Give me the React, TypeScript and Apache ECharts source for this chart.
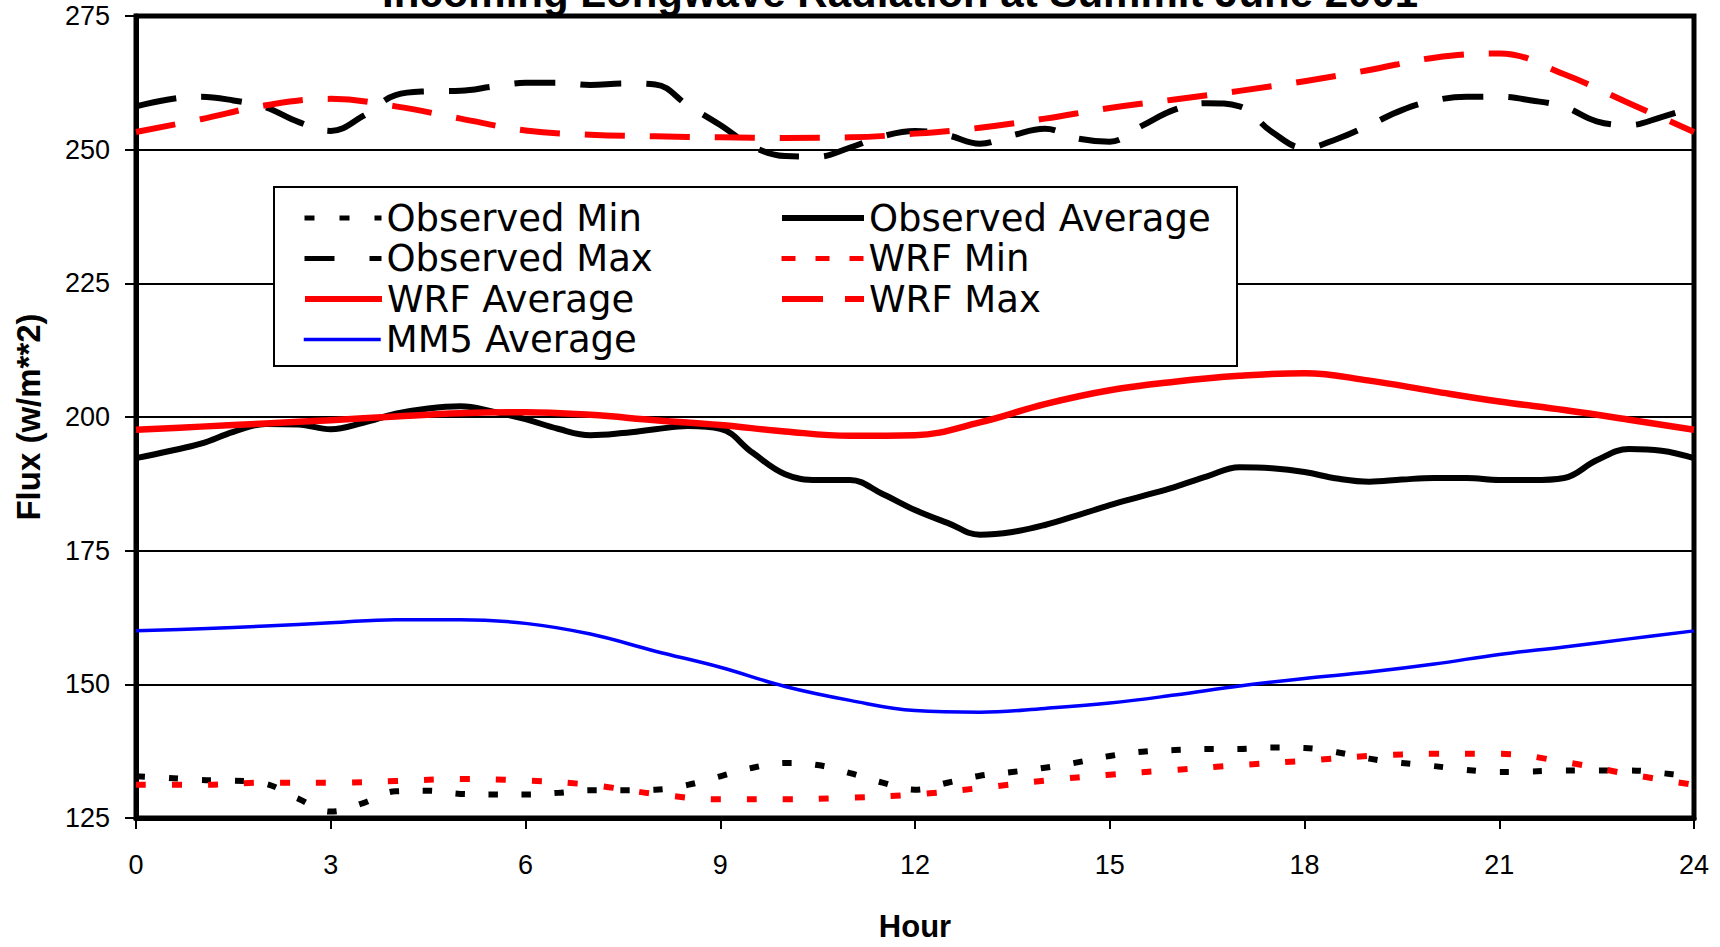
import React, { useEffect, useRef } from "react";
import * as echarts from "echarts";

// Hours of the day (half-hourly observations, hourly model output)
const halfHours = [
  0, 0.5, 1, 1.5, 2, 2.5, 3, 3.5, 4, 4.5, 5, 5.5, 6, 6.5, 7, 7.5, 8, 8.5, 9, 9.5,
  10, 10.5, 11, 11.5, 12, 12.5, 13, 13.5, 14, 14.5, 15, 15.5, 16, 16.5, 17, 17.5,
  18, 18.5, 19, 19.5, 20, 20.5, 21, 21.5, 22, 22.5, 23, 23.5, 24,
];
const hours = [
  0, 1, 2, 3, 4, 5, 6, 7, 8, 9, 10, 11, 12, 13, 14, 15, 16, 17, 18, 19, 20, 21, 22, 23, 24,
];

const observedMin = [
  132.8, 132.5, 132.1, 132.0, 131.4, 128.6, 126.2, 127.8, 130.0, 130.1, 129.5, 129.4,
  129.4, 129.7, 130.2, 130.2, 130.3, 131.2, 132.8, 134.4, 135.3, 134.9, 133.4, 131.6,
  130.3, 131.6, 132.9, 133.6, 134.4, 135.4, 136.6, 137.4, 137.7, 137.9, 137.9, 138.2,
  138.1, 137.3, 136.1, 135.3, 134.7, 134.0, 133.6, 133.7, 133.9, 133.9, 133.9, 133.4,
  132.7,
];
const observedAverage = [
  192.3, 193.6, 195.0, 197.2, 198.7, 198.6, 197.7, 198.9, 200.6, 201.6, 202.0, 201.0,
  199.6, 197.8, 196.6, 197.0, 197.7, 198.3, 197.8, 193.3, 189.3, 188.2, 188.2, 185.6,
  182.6, 180.2, 178.0, 178.5, 179.8, 181.6, 183.5, 185.2, 186.9, 188.9, 190.6, 190.4,
  189.7, 188.5, 187.9, 188.3, 188.6, 188.6, 188.2, 188.2, 188.6, 191.9, 194.0, 193.7,
  192.3,
];
const observedMax = [
  258.1, 259.4, 259.9, 259.2, 257.9, 255.2, 253.5, 256.3, 260.2, 260.9, 261.0, 261.8,
  262.5, 262.5, 262.1, 262.4, 262.2, 258.3, 254.6, 250.6, 248.8, 248.7, 250.4, 252.5,
  253.5, 252.7, 251.1, 252.7, 253.9, 252.1, 251.5, 254.5, 257.5, 258.7, 258.1, 253.3,
  250.3, 252.0, 254.6, 257.4, 259.2, 259.9, 259.9, 259.2, 258.0, 255.3, 254.6, 256.1,
  258.0,
];
const wrfMin = [
  131.2, 131.2, 131.6, 131.6, 131.9, 132.3, 132.0, 131.2, 129.5, 128.5, 128.5, 128.8,
  129.4, 130.6, 132.0, 133.1, 134.0, 134.9, 135.7, 136.6, 137.0, 137.0, 135.5, 133.2,
  131.2,
];
const wrfAverage = [
  197.6, 198.2, 198.8, 199.4, 200.1, 200.7, 200.9, 200.4, 199.4, 198.5, 197.3, 196.5,
  196.6, 199.0, 202.4, 205.0, 206.6, 207.7, 208.2, 206.8, 204.8, 202.9, 201.3, 199.5,
  197.6,
];
const wrfMax = [
  253.3, 255.7, 258.3, 259.5, 258.1, 255.8, 253.6, 252.8, 252.5, 252.3, 252.2, 252.3,
  253.0, 254.1, 255.8, 257.8, 259.4, 261.0, 262.8, 264.9, 267.2, 268.0, 264.1, 258.7,
  253.3,
];
const mm5Average = [
  160.0, 160.4, 160.9, 161.5, 162.1, 162.1, 161.4, 159.4, 156.2, 153.2, 149.6, 147.0,
  145.1, 144.8, 145.5, 146.5, 148.0, 149.7, 151.1, 152.3, 153.8, 155.6, 157.0, 158.5,
  160.0,
];

const TITLE = "Incoming Longwave Radiation at Summit June 2001";
const X_NAME = "Hour";
const Y_NAME = "Flux (w/m**2)";

const SANS = "'Liberation Sans', Arial, sans-serif";
const LEGEND_FONT = "'DejaVu Sans', 'Liberation Sans', sans-serif";

const BLACK = "#000000";
const RED = "#ff0000";
const BLUE = "#0000ff";

function pairs(xs: number[], ys: number[]) {
  return xs.map((x, i) => [x, ys[i]]);
}

function lineSeries(name: string, xs: number[], ys: number[], color: string, width: number, type: any, z: number) {
  return {
    name,
    type: "line",
    data: pairs(xs, ys),
    smooth: 0.4,
    symbol: "none",
    showSymbol: false,
    clip: true,
    z,
    lineStyle: { color, width, type, cap: "butt", join: "round" },
    itemStyle: { color },
    emphasis: { disabled: true },
  };
}

function legendItem(name: string, left: number, top: number, itemWidth: number, lineWidth: number, type: any) {
  return {
    data: [name],
    left,
    top,
    orient: "vertical",
    padding: 0,
    itemGap: 0,
    itemWidth,
    itemHeight: 36,
    selectedMode: false,
    textStyle: { fontFamily: LEGEND_FONT, fontSize: 37, color: BLACK },
    itemStyle: { opacity: 0 },
    lineStyle: { width: lineWidth, type, cap: "butt" },
    z: 5,
  };
}

export default function App() {
  const ref = useRef<HTMLDivElement>(null);

  useEffect(() => {
    if (!ref.current) return;
    const chart = echarts.init(ref.current, undefined, { renderer: "svg" });

    const rowTop = [199.5, 240, 280.5, 321];
    const col1 = 302;
    const col2 = 779;

    const option: any = {
      animation: false,
      backgroundColor: "#ffffff",
      title: {
        text: TITLE,
        left: 382,
        top: -29,
        padding: 0,
        textStyle: { fontFamily: SANS, fontWeight: "bold", fontSize: 42, color: BLACK },
      },
      grid: {
        left: 136,
        right: 26,
        top: 16,
        bottom: 115,
        show: true,
        borderColor: BLACK,
        borderWidth: 5,
        backgroundColor: "transparent",
        containLabel: false,
      },
      xAxis: {
        type: "value",
        min: 0,
        max: 24,
        interval: 3,
        name: X_NAME,
        nameLocation: "middle",
        nameGap: 93,
        nameTextStyle: { fontFamily: SANS, fontWeight: "bold", fontSize: 31, color: BLACK },
        axisLine: { onZero: false, lineStyle: { color: BLACK, width: 5 } },
        axisTick: { show: true, length: 11, lineStyle: { color: BLACK, width: 2 } },
        axisLabel: { margin: 33, fontFamily: SANS, fontSize: 27, color: BLACK },
        splitLine: { show: false },
      },
      yAxis: {
        type: "value",
        min: 125,
        max: 275,
        interval: 25,
        name: Y_NAME,
        nameLocation: "middle",
        nameGap: 91,
        nameRotate: 90,
        nameTextStyle: { fontFamily: SANS, fontWeight: "bold", fontSize: 33, color: BLACK },
        axisLine: { onZero: false, lineStyle: { color: BLACK, width: 5 } },
        axisTick: { show: true, length: 11, lineStyle: { color: BLACK, width: 2 } },
        axisLabel: { margin: 26, fontFamily: SANS, fontSize: 27, color: BLACK },
        splitLine: { show: true, lineStyle: { color: BLACK, width: 2 } },
      },
      legend: [
        legendItem("Observed Min", col1, rowTop[0], 77, 5, [10, 25]),
        legendItem("Observed Max", col1, rowTop[1], 77, 5, [30, 35]),
        legendItem("WRF Average", col1, rowTop[2], 77, 6, "solid"),
        legendItem("MM5 Average", col1, rowTop[3], 77, 3.5, "solid"),
        legendItem("Observed Average", col2, rowTop[0], 82, 6, "solid"),
        legendItem("WRF Min", col2, rowTop[1], 82, 5, [14, 20]),
        legendItem("WRF Max", col2, rowTop[2], 82, 6, [41, 22]),
      ],
      graphic: [
        {
          type: "rect",
          z: 3,
          shape: { x: 274, y: 187, width: 963, height: 179 },
          style: { fill: "#ffffff", stroke: BLACK, lineWidth: 2 },
        },
      ],
      series: [
        lineSeries("Observed Min", halfHours, observedMin, BLACK, 6, [9, 24], 2),
        lineSeries("Observed Average", halfHours, observedAverage, BLACK, 6, "solid", 2),
        lineSeries("Observed Max", halfHours, observedMax, BLACK, 6, [41, 25], 2),
        lineSeries("WRF Min", hours, wrfMin, RED, 6, [10, 26], 2),
        lineSeries("WRF Average", hours, wrfAverage, RED, 6.5, "solid", 2),
        lineSeries("WRF Max", hours, wrfMax, RED, 6, [40, 25], 2),
        lineSeries("MM5 Average", hours, mm5Average, BLUE, 3.5, "solid", 2),
      ],
    };

    chart.setOption(option);
    return () => {
      chart.dispose();
    };
  }, []);

  return (
    <div
      ref={ref}
      style={{ position: "fixed", left: 0, top: 0, width: 1720, height: 947, background: "#ffffff" }}
    />
  );
}
